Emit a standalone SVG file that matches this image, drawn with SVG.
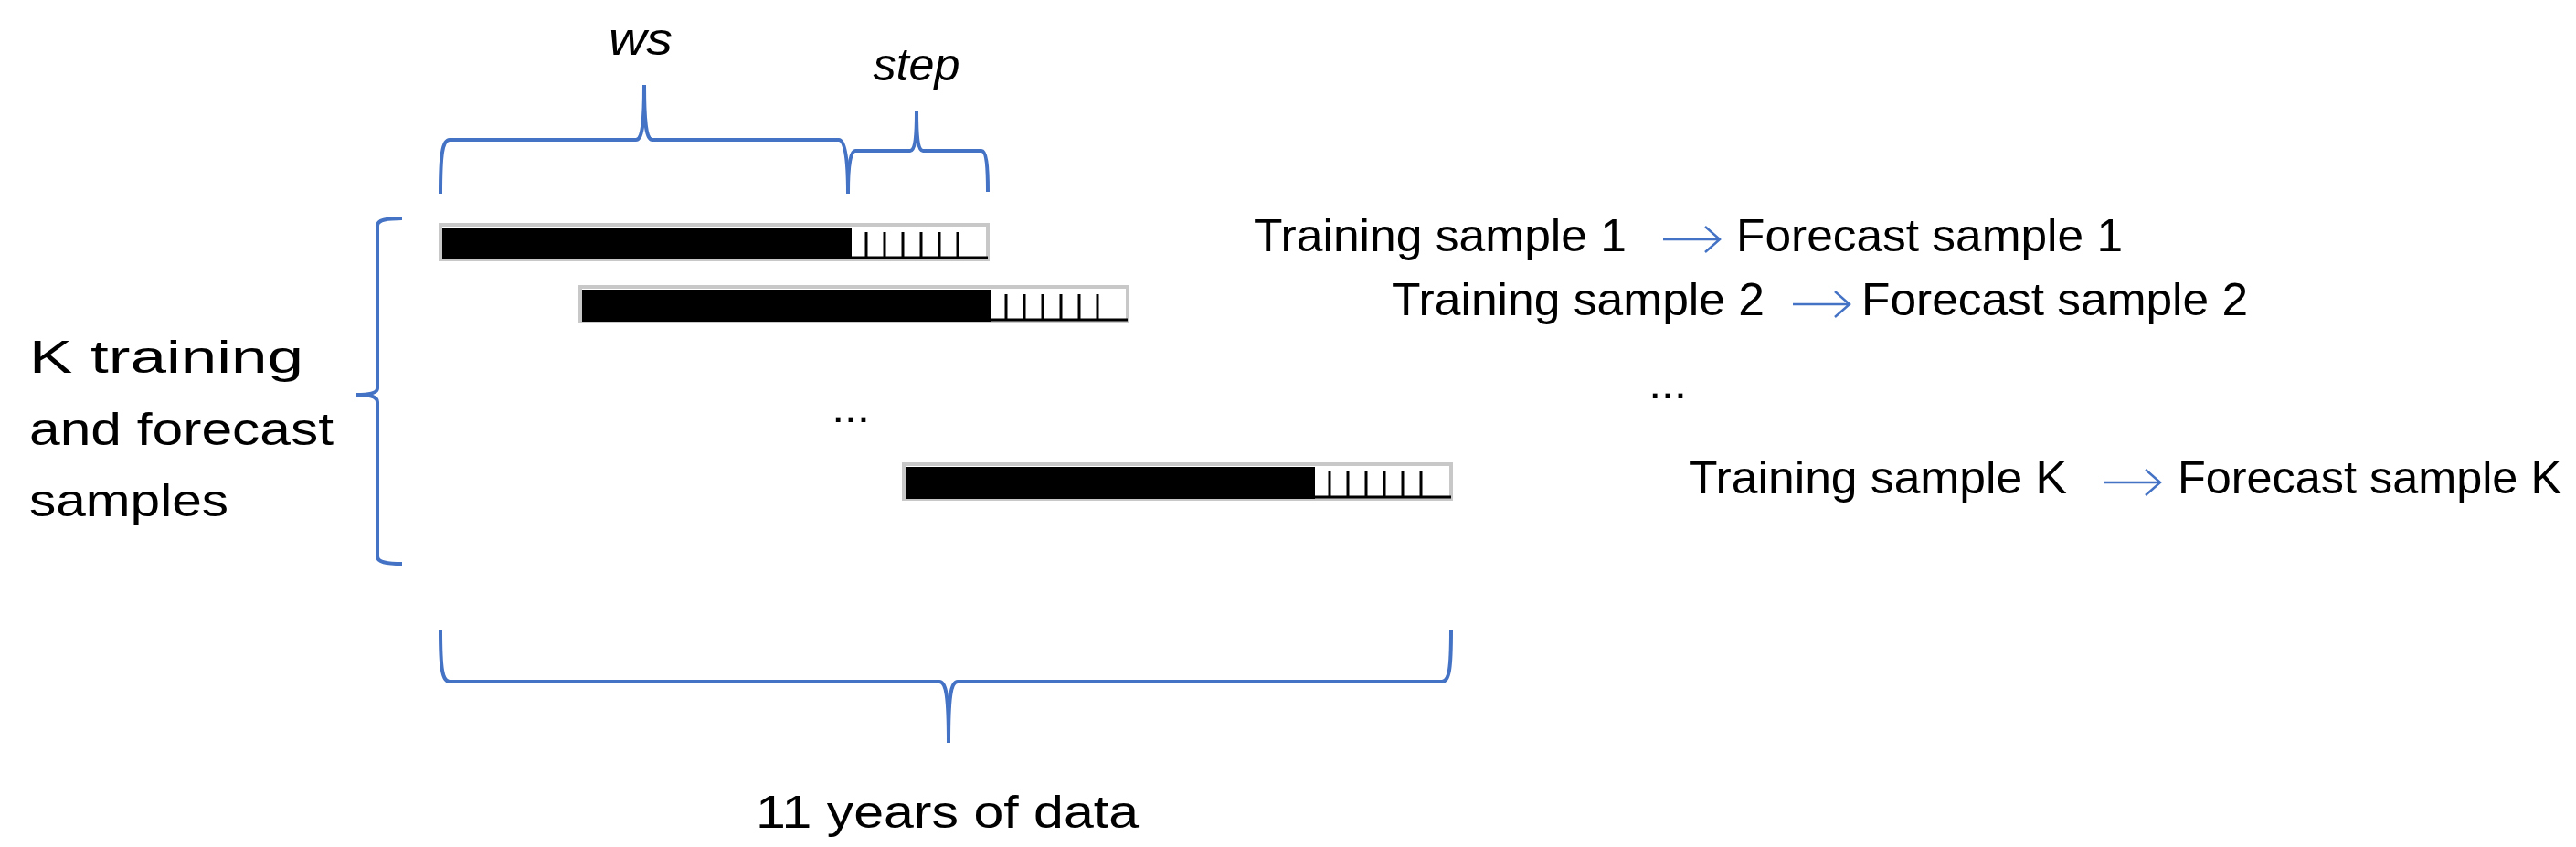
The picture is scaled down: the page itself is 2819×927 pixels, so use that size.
<svg xmlns="http://www.w3.org/2000/svg" width="2819" height="927" viewBox="0 0 2819 927">
<style>
text{font-family:"Liberation Sans",Arial,sans-serif;fill:#000;font-size:50px}
.it{font-style:italic}
.br{fill:none;stroke:#4472C4;stroke-width:4}
.ar{fill:none;stroke:#4472C4;stroke-width:2.5}
.blk{fill:#000}
.frame{fill:#fff;stroke:#c8c8c8;stroke-width:4}
.tk{stroke:#000;stroke-width:3}
</style>
<defs>
<g id="bar">
<rect class="frame" x="0" y="0" width="599" height="38"/>
<rect class="blk" x="2" y="3" width="448" height="35"/>
<line class="tk" x1="448" y1="36" x2="599" y2="36"/>
<path class="tk" d="M466 8V36M486 8V36M506 8V36M526 8V36M546 8V36M566 8V36"/>
</g>
</defs>
<g id="braces">
<path class="br" d="M482 212C482 170 484 153 492 153H696C702 153 705 140 705 93C705 140 708 153 714 153H918C924 153 928 170 928 212"/>
<path class="br" d="M928 210C928 180 931 165 936 165H996C1001 165 1003 150 1003 122C1003 150 1005 165 1010 165H1074C1079 165 1081 180 1081 210"/>
<path class="br" d="M440 239C422 239 413 241 413 247V425C413 430 405 432 390 432C405 432 413 434 413 440V609C413 615 422 617 440 617"/>
<path class="br" d="M482 689C482 732 484 746 492 746H1028C1035 746 1038 760 1038 813C1038 760 1041 746 1048 746H1578C1586 746 1588 732 1588 689"/>
</g>
<g id="sample1"><use href="#bar" x="482" y="246"/></g>
<g id="sample2"><use href="#bar" x="635" y="314"/></g>
<g id="sampleK"><use href="#bar" x="989" y="508"/></g>
<g id="labels">
<text class="it" x="701" y="60" text-anchor="middle" textLength="70" lengthAdjust="spacingAndGlyphs">ws</text>
<text class="it" x="1003" y="88" text-anchor="middle" textLength="95" lengthAdjust="spacingAndGlyphs">step</text>
<text x="32" y="408" textLength="300" lengthAdjust="spacingAndGlyphs">K training</text>
<text x="32" y="487" textLength="333" lengthAdjust="spacingAndGlyphs">and forecast</text>
<text x="32" y="565" textLength="218" lengthAdjust="spacingAndGlyphs">samples</text>
<text x="931" y="462" text-anchor="middle">...</text>
<text x="1825" y="436" text-anchor="middle">...</text>
<text x="827" y="906" textLength="419" lengthAdjust="spacingAndGlyphs">11 years of data</text>
<text x="1372" y="275" textLength="408" lengthAdjust="spacingAndGlyphs">Training sample 1</text>
<text x="1900" y="275" textLength="423" lengthAdjust="spacingAndGlyphs">Forecast sample 1</text>
<text x="1523" y="345" textLength="408" lengthAdjust="spacingAndGlyphs">Training sample 2</text>
<text x="2037" y="345" textLength="423" lengthAdjust="spacingAndGlyphs">Forecast sample 2</text>
<text x="1848" y="540" textLength="414" lengthAdjust="spacingAndGlyphs">Training sample K</text>
<text x="2383" y="540" textLength="420" lengthAdjust="spacingAndGlyphs">Forecast sample K</text>
</g>
<g id="connectors">
<path class="ar" d="M1820 262H1882M1866 248L1882 262L1866 276"/>
<path class="ar" d="M1962 333H2024M2008 319L2024 333L2008 347"/>
<path class="ar" d="M2302 528H2364M2348 514L2364 528L2348 542"/>
</g>
</svg>
